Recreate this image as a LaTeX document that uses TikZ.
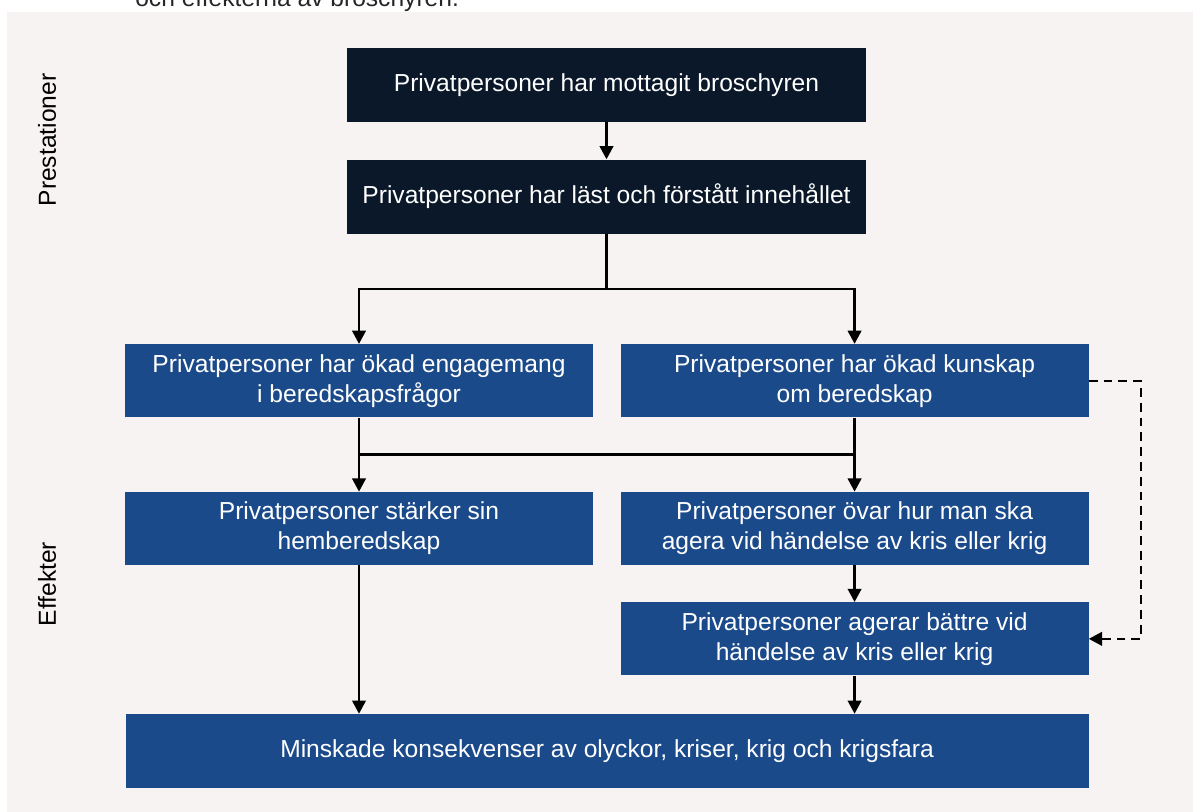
\documentclass[tikz,border=0pt]{standalone}
\usepackage{fontspec}
\setmainfont{Liberation Sans}
\usepackage{xcolor}
\usetikzlibrary{arrows.meta,positioning,calc}
\definecolor{bgbeige}{HTML}{F7F3F2}
\definecolor{darknavy}{HTML}{0A1829}
\definecolor{boxblue}{HTML}{1B4A8B}
\newcommand{\boxfont}{\fontsize{17.5}{21.3}\selectfont}

\begin{document}
\begin{tikzpicture}[
    node distance=0.925cm,
    box/.style={rectangle, fill=boxblue, text=white, minimum width=11.7cm, minimum height=1.83cm, inner sep=0pt, align=center, font=\boxfont},
    darkbox/.style={box, fill=darknavy, minimum width=12.975cm, minimum height=1.85cm},
    sidelabel/.style={rotate=90, font=\boxfont, text=black},
    arrow/.style={-{Triangle[length=0.33cm,width=0.34cm]}, line width=1.6pt},
    dasharrow/.style={arrow, dash pattern=on 0.22cm off 0.15cm},
    link/.style={line width=1.6pt}
]
% Page and background
\useasboundingbox (0,0) rectangle (29.825,-20.3);
\fill[bgbeige] (0.175,-0.3) rectangle (29.825,-20.3);
\node[anchor=base west, font=\boxfont, text=black!85, inner sep=0pt] (caption) at (3.375,-0.17) {och effekterna av broschyren.};

% Prestationer
\node[darkbox] (recv) at (15.1625,-2.125) {Privatpersoner har mottagit broschyren};
\node[darkbox, below=of recv] (read) {Privatpersoner har läst och förstått innehållet};

% Effekter, first row
\node[box, below=2.75cm of read, xshift=-6.1875cm] (engage) {Privatpersoner har ökad engagemang\\i beredskapsfrågor};
\node[box, right=0.675cm of engage] (know) {Privatpersoner har ökad kunskap\\om beredskap};

% Effekter, second row
\node[box, below=1.85cm of engage] (home) {Privatpersoner stärker sin\\hemberedskap};
\node[box, below=1.85cm of know] (drill) {Privatpersoner övar hur man ska\\agera vid händelse av kris eller krig};
\node[box, below=0.915cm of drill] (act) {Privatpersoner agerar bättre vid\\händelse av kris eller krig};

% Outcome
\node[box, minimum width=24.075cm, minimum height=1.855cm, below=0.95cm of act, xshift=-6.1875cm] (outcome) {Minskade konsekvenser av olyckor, kriser, krig och krigsfara};

% Side labels
\node[sidelabel] (lblprest) at (1.175,-3.5) {Prestationer};
\node[sidelabel] (lbleff) at (1.175,-14.6) {Effekter};

% Arrows
\draw[arrow] (recv) -- (read);
\draw[link] (read.south) -- ++(0,-1.375) coordinate (split);
\draw[arrow] (split) -| (engage.north);
\draw[arrow] (split) -| (know.north);
\draw[arrow] (engage) -- (home);
\draw[arrow] (know) -- (drill);
\draw[link] ($(engage.south)!0.5!(home.north)$) -- ($(know.south)!0.5!(drill.north)$);
\draw[arrow] (drill) -- (act);
\draw[arrow] (home.south) -- (home.south |- outcome.north);
\draw[arrow] (act.south) -- (act.south |- outcome.north);
\draw[dasharrow] (know.east) -- ++(1.3,0) |- (act.east);

\end{tikzpicture}
\end{document}
